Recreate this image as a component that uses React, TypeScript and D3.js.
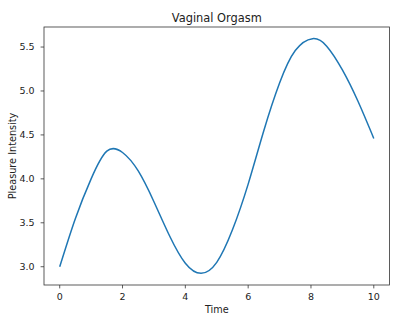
import React from "react";
import * as d3 from "d3";

const times = [0, 0.5, 1.0, 1.5, 2.0, 2.5, 3.0, 3.5, 4.0, 4.5, 5.0, 5.5, 6.0, 6.5, 7.0, 7.5, 8.05, 8.5, 9.0, 9.5, 10];
const intensity = [3.0, 3.55, 4.0, 4.315, 4.3, 4.09, 3.74, 3.35, 3.04, 2.925, 3.05, 3.42, 3.94, 4.55, 5.09, 5.46, 5.595, 5.51, 5.24, 4.88, 4.46];
const xTicks = [0, 2, 4, 6, 8, 10];
const yTicks = [3.0, 3.5, 4.0, 4.5, 5.0, 5.5];

export default function App() {
  const W = 400, H = 320;
  const L = 44, R = 389.5, T = 27, B = 285;
  const x = d3.scaleLinear().domain([-0.5, 10.5]).range([L, R]);
  const y = d3.scaleLinear().domain([2.792, 5.728]).range([B, T]);
  const pts = times.map((t, i) => [t, intensity[i]] as [number, number]);
  const line = d3.line<[number, number]>().x(d => x(d[0])).y(d => y(d[1])).curve(d3.curveNatural);
  const font = "DejaVu Sans, sans-serif";
  return (
    <svg width={W} height={H} style={{ position: "absolute", left: 0, top: 0, background: "#fff" }}>
      <rect x={0} y={0} width={W} height={H} fill="#fff" />
      <path d={line(pts) || ""} fill="none" stroke="#1f77b4" strokeWidth={1.5} />
      <rect x={L} y={T} width={R - L} height={B - T} fill="none" stroke="#333" strokeWidth={0.8} />
      {xTicks.map(t => (
        <g key={"x" + t}>
          <line x1={x(t)} x2={x(t)} y1={B} y2={B + 3.4} stroke="#333" strokeWidth={0.8} />
          <text x={x(t)} y={299.5} fontSize={9.5} fontFamily={font} textAnchor="middle" fill="#222">{t}</text>
        </g>
      ))}
      {yTicks.map(v => (
        <g key={"y" + v}>
          <line x1={L - 3.4} x2={L} y1={y(v)} y2={y(v)} stroke="#333" strokeWidth={0.8} />
          <text x={34.5} y={y(v) + 3.4} fontSize={9.5} fontFamily={font} textAnchor="end" fill="#222">{v.toFixed(1)}</text>
        </g>
      ))}
      <text x={(L + R) / 2} y={312.7} fontSize={9.7} fontFamily={font} textAnchor="middle" fill="#222">Time</text>
      <text transform={`translate(15.5,${(T + B) / 2}) rotate(-90)`} fontSize={9.7} fontFamily={font} textAnchor="middle" fill="#222">Pleasure Intensity</text>
      <text x={(L + R) / 2} y={21.5} fontSize={11.4} fontFamily={font} textAnchor="middle" fill="#222">Vaginal Orgasm</text>
    </svg>
  );
}
